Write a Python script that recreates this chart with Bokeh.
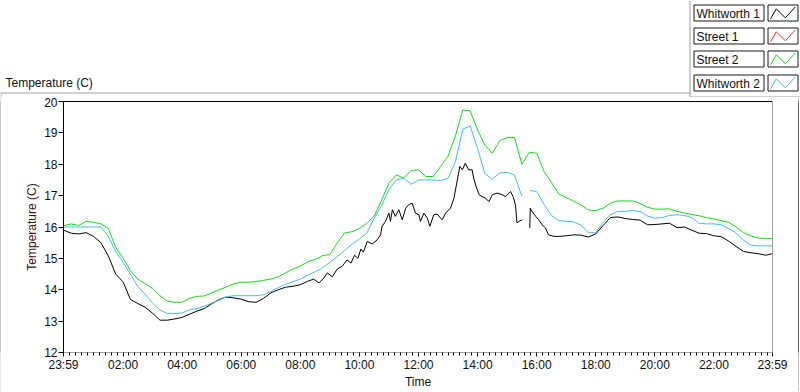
import numpy as np
from bokeh.plotting import figure
from bokeh.layouts import column, row
from bokeh.models import Range1d, FixedTicker, LinearAxis, ColumnDataSource
from bokeh.core.properties import value
from bokeh.embed import file_html
from bokeh.resources import INLINE

NAN = float("nan")

# sample times, minutes after midnight (23:59 of the previous day = -1)
minutes = [-1] + list(range(15, 1440, 15)) + [1439]

w1_minutes = ([-1] + list(range(15, 481, 15)) +
              [495, 507, 518, 528, 535, 545, 555, 565, 575, 583, 590, 597, 603, 608,
               616, 626, 636, 643, 646, 653, 660, 663, 667, 673, 680, 687, 694,
               700, 707, 714, 721, 724, 731, 738, 743, 751, 758, 768, 775, 785, 792,
               797, 804, 809, 815, 822, 829, 832, 838, 843, 849, 856, 863, 870, 880,
               890, 897, 907, 912, 917, 920, 924, 931, 938, 946, 947, 951, 958, 964,
               971, 978, 984, 995] +
              list(range(1005, 1440, 15)) + [1439])

whitworth1 = [15.90, 15.80, 15.78, 15.82, 15.70, 15.50, 15.08, 14.50, 14.25, 13.69,
              13.56, 13.44, 13.25, 13.03, 13.03, 13.07, 13.12, 13.22, 13.32, 13.40,
              13.55, 13.69, 13.77, 13.74, 13.70, 13.62, 13.60, 13.72, 13.90, 14.00,
              14.08, 14.11, 14.16,
              14.27, 14.34, 14.22, 14.38, 14.54, 14.41, 14.66, 14.75, 14.95, 14.85,
              15.10, 15.00, 15.30, 15.20,
              15.54, 15.46, 15.59, 15.75, 16.02, 16.18, 16.44, 16.18, 16.55,
              16.34, 16.55, 16.23, 16.60, 16.71, 16.76, 16.44, 16.39, 16.18, 16.44,
              16.28, 16.02, 16.39, 16.41, 16.23, 16.44, 16.60, 16.92, 17.34, 17.93,
              17.82, 18.03, 17.82, 17.82, 17.56, 17.24, 17.03, 16.97, 16.92, 16.81,
              17.03, 17.08, 17.03, 16.97, 17.13, 16.97, 16.71, 16.13, 16.18, 16.23,
              NAN, 15.97, 16.60, 16.49, 16.34, 16.23, 16.07, 15.97, 15.75, 15.70,
              15.70, 15.72, 15.75, 15.74, 15.68, 15.78, 16.05, 16.30, 16.32, 16.27,
              16.24, 16.22, 16.07, 16.08, 16.10, 16.12, 15.98, 16.00, 15.90, 15.80,
              15.79, 15.72, 15.69, 15.55, 15.38, 15.22, 15.18, 15.15, 15.10,
              15.15]

street1 = []

street2 = [16.04, 16.10, 16.05, 16.18, 16.15, 16.10, 15.95, 15.35, 15.01, 14.60,
           14.34, 14.19, 14.04, 13.81, 13.63, 13.60, 13.60, 13.73, 13.79, 13.80,
           13.90, 14.00, 14.09, 14.19, 14.24, 14.24, 14.26, 14.30, 14.34, 14.41,
           14.54, 14.66, 14.75, 14.90, 14.96, 15.09, 15.12,
           15.49, 15.81, 15.85, 15.95, 16.12, 16.35, 16.85, 17.40, 17.66, 17.56,
           17.80, 17.82, 17.61, 17.61, 17.93, 18.26, 18.90, 19.73, 19.70, 19.10,
           18.60, 18.35, 18.75, 18.85, 18.85, 18.00, 18.38, 18.35, 17.77, 17.42,
           17.05, 16.94, 16.82, 16.71, 16.54, 16.52, 16.60, 16.76, 16.83, 16.83,
           16.83, 16.75, 16.63, 16.57, 16.57, 16.58, 16.50, 16.45, 16.40, 16.36,
           16.30, 16.26, 16.20, 16.15, 16.00, 15.82, 15.72, 15.65, 15.63,
           15.63]

w2_minutes = sorted([m for m in minutes if m != 945] + [938, 946])

whitworth2 = [16.00, 16.00, 16.00, 16.00, 16.00, 16.00, 15.70, 15.22, 14.87, 14.50,
              14.10, 13.85, 13.57, 13.36, 13.24, 13.24, 13.26, 13.36, 13.40, 13.48,
              13.57, 13.67, 13.78, 13.81, 13.81, 13.81, 13.81, 13.84, 13.94, 14.07,
              14.17, 14.26, 14.34, 14.46, 14.57, 14.70, 14.87,
              15.06, 15.25, 15.45, 15.62, 15.80, 16.28, 16.68, 17.20, 17.50, 17.56,
              17.36, 17.50, 17.50, 17.50, 17.48, 17.55, 18.08, 19.12, 19.22, 18.50,
              17.70, 17.52, 17.72, 17.74, 17.65, 16.98, NAN, 17.16, 17.13, 16.72,
              16.37, 16.20, 16.18, 16.16, 16.06, 15.82, 15.82, 16.15, 16.39, 16.50,
              16.50, 16.52, 16.50, 16.35, 16.28, 16.30, 16.37, 16.39, 16.37, 16.30,
              16.12, 16.10, 16.10, 16.07, 15.95, 15.82, 15.58, 15.42, 15.40, 15.40,
              15.40]

series_names = ["Whitworth 1", "Street 1", "Street 2", "Whitworth 2"]
series_colors = ["#000000", "#f03030", "#12dc12", "#40bcf4"]

x_tick_values = [-1, 120, 240, 360, 480, 600, 720, 840, 960, 1080, 1200, 1320, 1439]
x_tick_labels = ["23:59", "02:00", "04:00", "06:00", "08:00", "10:00", "12:00",
                 "14:00", "16:00", "18:00", "20:00", "22:00", "23:59"]
y_tick_values = [12, 13, 14, 15, 16, 17, 18, 19, 20]

assert len(whitworth1) == len(w1_minutes), (len(whitworth1), len(w1_minutes))
assert len(street2) == len(minutes), len(street2)
assert len(whitworth2) == len(w2_minutes), (len(whitworth2), len(w2_minutes))

FONT = "Liberation Sans"
TXT = "#101010"


def plain(fig, bg="white"):
    fig.outline_line_color = None
    fig.background_fill_color = bg
    fig.border_fill_color = bg
    return fig


# ---------------- chart ----------------
p = figure(width=797, height=294, output_backend="svg", toolbar_location=None,
           x_range=Range1d(-1, 1439), y_range=Range1d(12, 20),
           min_border_left=62, min_border_right=26, min_border_top=4,
           min_border_bottom=38)
plain(p)
p.grid.visible = False

series = [(w1_minutes, whitworth1), ([], street1), (minutes, street2), (w2_minutes, whitworth2)]
for name, (tt, vals), col in zip(series_names, series, series_colors):
    src = ColumnDataSource(dict(t=np.array(tt, dtype=float), v=np.array(vals, dtype=float)))
    p.line("t", "v", source=src, line_color=col, line_width=1)

minor = [m for m in range(0, 1440, 12) if m not in x_tick_values]
xa = p.xaxis[0]
xa.ticker = FixedTicker(ticks=x_tick_values, minor_ticks=minor)
xa.major_label_overrides = {v: s for v, s in zip(x_tick_values, x_tick_labels)}
xa.axis_label = "Time"
xa.axis_line_color = "#a0a0a0"
xa.major_tick_in = 0
xa.major_tick_out = 4
xa.minor_tick_in = 0
xa.minor_tick_out = 3
xa.major_tick_line_color = "black"
xa.minor_tick_line_color = "black"
xa.major_label_standoff = 1
xa.axis_label_standoff = 0
xa.major_label_text_font = FONT
xa.major_label_text_font_size = "12px"
xa.major_label_text_color = TXT
xa.axis_label_text_font = FONT
xa.axis_label_text_font_size = "12px"
xa.axis_label_text_font_style = "normal"
xa.axis_label_text_color = TXT

ya = p.yaxis[0]
ya.ticker = FixedTicker(ticks=y_tick_values, minor_ticks=[])
ya.axis_label = "Temperature (C)"
ya.axis_line_color = "black"
ya.major_tick_in = 0
ya.major_tick_out = 5
ya.minor_tick_line_color = None
ya.major_tick_line_color = "black"
ya.major_label_standoff = 1
ya.axis_label_standoff = 2
ya.major_label_text_font = FONT
ya.major_label_text_font_size = "12px"
ya.major_label_text_color = TXT
ya.axis_label_text_font = FONT
ya.axis_label_text_font_size = "12px"
ya.axis_label_text_font_style = "normal"
ya.axis_label_text_color = "#3c1414"


def edge_axis(color):
    return LinearAxis(ticker=FixedTicker(ticks=[], minor_ticks=[]),
                      major_tick_in=0, major_tick_out=0, minor_tick_in=0,
                      minor_tick_out=0, major_label_standoff=0,
                      axis_line_color=color, axis_line_width=1)


p.add_layout(edge_axis("black"), "above")
p.add_layout(edge_axis("#a0a0a0"), "right")

# ---------------- header (legend + top label), pixel coordinates ----------------
HH = 97
hd = figure(width=800, height=HH, output_backend="svg", toolbar_location=None,
            x_range=Range1d(0, 800), y_range=Range1d(HH, 0),
            x_axis_type=None, y_axis_type=None, min_border=0)
plain(hd)

hd.text(x=[5], y=[82.5], text=["Temperature (C)"], text_font=value(FONT),
        text_font_size=value("12px"), text_color=TXT, text_baseline="middle",
        text_align="left")

hd.segment(x0=[0, 0.5, 689.5, 689.5], y0=[92.5, 92.5, 0, 96.5],
           x1=[690, 0.5, 689.5, 800], y1=[92.5, HH, 96.5, 96.5],
           line_color="#a0a0a0", line_width=1)

tops = [4, 27, 50, 74]
hd.quad(left=[693.5] * 4, right=[763.5] * 4, top=[t + 0.5 for t in tops],
        bottom=[t + 16.5 for t in tops], fill_color="white", line_color="#1a1a1a")
hd.quad(left=[767.5] * 4, right=[797.5] * 4, top=[t + 0.5 for t in tops],
        bottom=[t + 16.5 for t in tops], fill_color="white", line_color="#1a1a1a")
hd.text(x=[696] * 4, y=[t + 9 for t in tops], text=series_names, text_font=value(FONT),
        text_font_size=value("12px"), text_color=TXT, text_baseline="middle",
        text_align="left")
zx = [2.6, 8.3, 17.3, 27.3]
zy = [14.3, 4.3, 13.3, 2.5]
hd.multi_line(xs=[[767.5 + a for a in zx] for _ in tops],
              ys=[[t + b for b in zy] for t in tops],
              line_color=series_colors, line_width=1)


# ---------------- thin frame strips (solid colour) ----------------
def strip(w, h, color):
    s = figure(width=w, height=h, output_backend="svg", toolbar_location=None,
               x_range=Range1d(0, w), y_range=Range1d(0, h),
               x_axis_type=None, y_axis_type=None, min_border=0)
    plain(s, color)
    s.quad(left=[0], right=[w], bottom=[0], top=[h], fill_color=color,
           line_color=None)
    return s


left_strip = strip(1, 294, "#a0a0a0")
right_strip = strip(1, 294, "#000000")
edge_strip = strip(1, 294, "#ffffff")
bottom_strip = strip(800, 1, "#000000")

layout = column(hd, row(left_strip, p, right_strip, edge_strip), bottom_strip)

open("out.html", "w").write(file_html(layout, INLINE))
